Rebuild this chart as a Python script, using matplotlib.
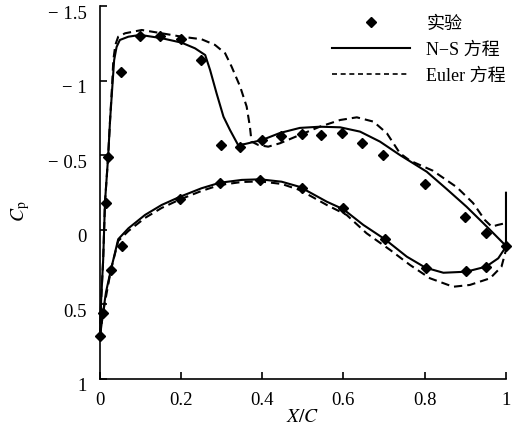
import matplotlib
matplotlib.use('Agg')
import matplotlib.pyplot as plt
import matplotlib.transforms as mtransforms
from matplotlib.lines import Line2D

plt.rcParams['font.family'] = ['Liberation Serif', 'Noto Sans CJK SC']
plt.rcParams['mathtext.fontset'] = 'stix'

# experiment (upper and lower surface points)
exp_x = [0.001, 0.009, 0.016, 0.022, 0.053, 0.10, 0.15, 0.20, 0.25, 0.298,
         0.346, 0.399, 0.447, 0.497, 0.544, 0.596, 0.647, 0.698, 0.80, 0.90,
         0.951, 1.0,
         0.028, 0.055, 0.198, 0.296, 0.395, 0.497, 0.60, 0.702, 0.802, 0.902,
         0.951]
exp_cp = [0.71, 0.56, -0.18, -0.49, -1.06, -1.30, -1.30, -1.28, -1.14, -0.57,
          -0.56, -0.604, -0.633, -0.644, -0.638, -0.651, -0.586, -0.503, -0.309, -0.087,
          0.02, 0.105,
          0.27, 0.107, -0.206, -0.313, -0.336, -0.28, -0.147, 0.062, 0.257, 0.275,
          0.246]

# N-S, upper surface
ns_up_x = [0.001, 0.004, 0.009, 0.0135, 0.021, 0.026, 0.031, 0.036, 0.042, 0.050,
           0.071, 0.100, 0.153, 0.202, 0.235, 0.260, 0.272, 0.288, 0.305, 0.321,
           0.341, 0.358, 0.383, 0.400, 0.444, 0.493, 0.542, 0.592, 0.641, 0.690,
           0.739, 0.805, 0.854, 0.903, 0.953, 1.0, 1.0]
ns_up_cp = [0.718, 0.47, 0.20, -0.188, -0.483, -0.738, -0.94, -1.14, -1.228, -1.275,
            -1.297, -1.309, -1.287, -1.257, -1.219, -1.174, -1.074, -0.917, -0.760, -0.671,
            -0.570, -0.577, -0.593, -0.604, -0.651, -0.685, -0.693, -0.689, -0.660, -0.593,
            -0.503, -0.391, -0.275, -0.156, -0.022, 0.107, -0.25]

# N-S, lower surface
ns_lo_x = [0.001, 0.0086, 0.016, 0.028, 0.046, 0.071, 0.112, 0.153, 0.198, 0.251,
           0.296, 0.350, 0.395, 0.448, 0.493, 0.559, 0.600, 0.649, 0.702, 0.756,
           0.802, 0.846, 0.902, 0.951, 0.981, 1.0]
ns_lo_cp = [0.718, 0.557, 0.416, 0.268, 0.062, -0.011, -0.101, -0.168, -0.223, -0.280,
            -0.317, -0.336, -0.340, -0.324, -0.289, -0.190, -0.139, -0.034, 0.062, 0.179,
            0.253, 0.287, 0.280, 0.246, 0.190, 0.112]

# Euler, upper surface
eu_up_x = [0.001, 0.004, 0.009, 0.0135, 0.021, 0.026, 0.031, 0.034, 0.039, 0.046,
           0.063, 0.104, 0.153, 0.202, 0.251, 0.284, 0.309, 0.325, 0.346, 0.362,
           0.370, 0.374, 0.391, 0.415, 0.444, 0.493, 0.542, 0.592, 0.633, 0.674,
           0.707, 0.739, 0.764, 0.820, 0.879, 0.919, 0.948, 0.965, 0.98, 0.9975]
eu_up_cp = [0.718, 0.47, 0.20, -0.188, -0.483, -0.738, -0.973, -1.141, -1.242, -1.297,
            -1.320, -1.342, -1.320, -1.297, -1.280, -1.242, -1.186, -1.096, -0.962, -0.828,
            -0.693, -0.593, -0.570, -0.559, -0.582, -0.638, -0.693, -0.738, -0.756, -0.727,
            -0.649, -0.515, -0.465, -0.398, -0.287, -0.181, -0.067, -0.022, -0.034, -0.045]

# Euler, lower surface
eu_lo_x = [0.001, 0.0086, 0.028, 0.046, 0.071, 0.112, 0.153, 0.198, 0.251, 0.296,
           0.350, 0.395, 0.448, 0.493, 0.559, 0.608, 0.657, 0.715, 0.764, 0.813,
           0.870, 0.911, 0.961, 0.989, 1.0]
eu_lo_cp = [0.718, 0.557, 0.268, 0.074, 0.007, -0.081, -0.148, -0.205, -0.262, -0.302,
            -0.322, -0.326, -0.309, -0.268, -0.168, -0.101, 0.022, 0.134, 0.235, 0.324,
            0.381, 0.369, 0.324, 0.246, 0.134]

yticks = [-1.5, -1, -0.5, 0, 0.5, 1]
ytick_labels = ['\u2212 1.5', '\u2212 1', '\u2212 0.5', '0', '0.5', '1']
xticks = [0, 0.2, 0.4, 0.6, 0.8, 1]
xtick_labels = ['0', '0.2', '0.4', '0.6', '0.8', '1']

fig = plt.figure(figsize=(5.14, 4.30), dpi=100)
ax = fig.add_axes([0.1936, 0.1186, 0.7908, 0.8664])

lw = 1.5
dash = (4, 2.4)
ax.plot(ns_up_x, ns_up_cp, color='black', lw=lw, clip_on=False)
ax.plot(ns_lo_x, ns_lo_cp, color='black', lw=lw, clip_on=False)
ax.plot(eu_up_x, eu_up_cp, color='black', lw=lw, dashes=dash, clip_on=False)
ax.plot(eu_lo_x, eu_lo_cp, color='black', lw=lw, dashes=dash, clip_on=False)
ax.plot(exp_x, exp_cp, linestyle='none', marker='D', markersize=5.5,
        color='black', clip_on=False, zorder=5)

ax.set_xlim(0, 1)
ax.set_ylim(1, -1.5)
ax.set_xticks(xticks)
ax.set_xticklabels(xtick_labels)
ax.set_yticks(yticks)
ax.set_yticklabels(ytick_labels)
ax.tick_params(direction='in', length=5, width=1.2, labelsize=13.5)
ax.tick_params(axis='y', pad=9)
ax.tick_params(axis='x', pad=9)
for s in ['top', 'right']:
    ax.spines[s].set_visible(False)
for s in ['left', 'bottom']:
    ax.spines[s].set_linewidth(1.2)

# y tick labels sit a little below their ticks in the original
shift = mtransforms.ScaledTranslation(0, -4 / 72, fig.dpi_scale_trans)
for lab in ax.get_yticklabels():
    lab.set_transform(lab.get_transform() + shift)

ax.set_xlabel('$X/C$', fontsize=14, labelpad=0)
ax.set_ylabel('$C_\\mathrm{p}$', fontsize=14)
ax.yaxis.set_label_coords(-0.165, 0.45)

handles = [
    Line2D([], [], linestyle='none', marker='D', markersize=5.5, color='black'),
    Line2D([], [], color='black', lw=1.5),
    Line2D([], [], color='black', lw=1.2, dashes=(3, 2.2)),
]
labels = ['实验', 'N\u2212S 方程', 'Euler 方程']
ax.legend(handles, labels, loc='upper right', bbox_to_anchor=(1.0, 0.975),
          frameon=False, fontsize=13, handlelength=4.3, handletextpad=0.9,
          labelspacing=0.5, borderpad=0, borderaxespad=0)

fig.savefig('out.png', dpi=100)
